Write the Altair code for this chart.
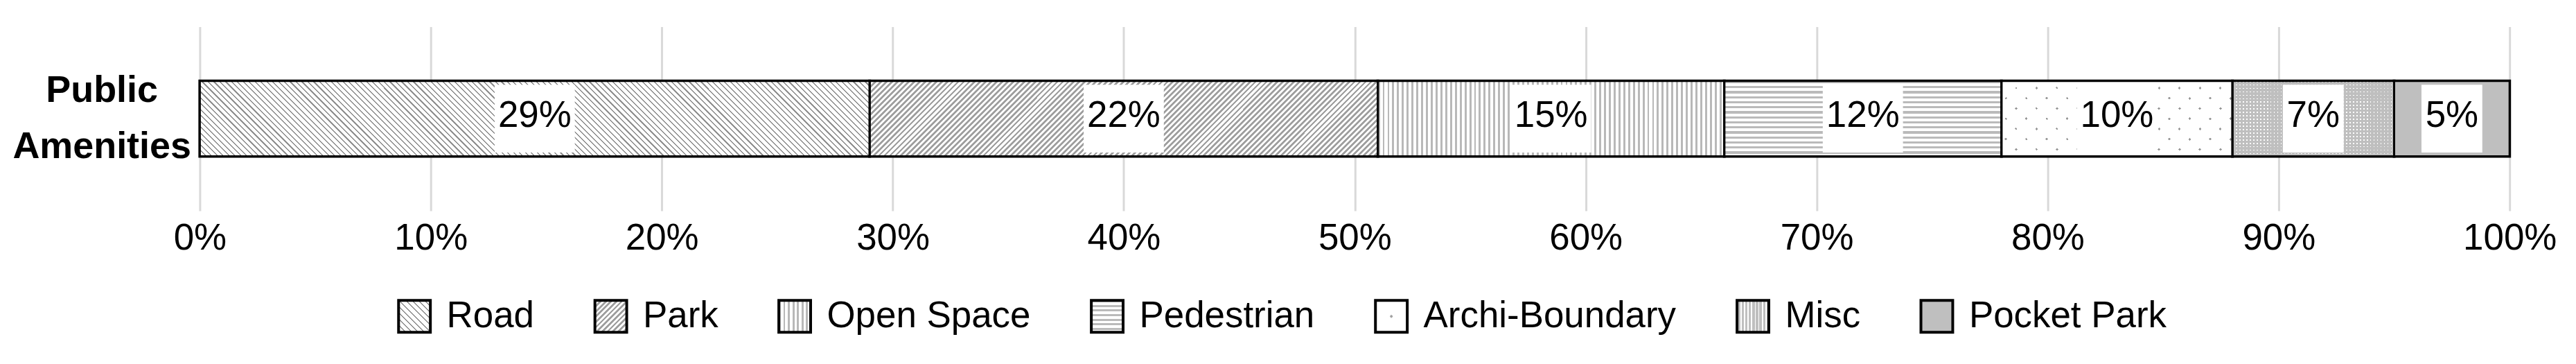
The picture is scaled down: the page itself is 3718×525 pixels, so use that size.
import json
import altair as alt
import pandas as pd

# ---------------- data ----------------
categories = ["Road", "Park", "Open Space", "Pedestrian", "Archi-Boundary", "Misc", "Pocket Park"]
shares = [29, 22, 15, 12, 10, 7, 5]
group_name = "Public Amenities"
tick_values = [0, 10, 20, 30, 40, 50, 60, 70, 80, 90, 100]

df = pd.DataFrame({
    "category": categories,
    "value": shares,
    "order": list(range(len(categories))),
    "group": [group_name] * len(categories),
})

# ---------------- style ----------------
FONT = "Liberation Sans"
PLOT_W, PLOT_H = 3341, 266
BAR_H = 109
LEG = 46
CLEAR = "rgba(255,255,255,0)"


def stops_for(n, frac, line, bg):
    out = []
    for i in range(n):
        a, b, c = i / n, (i + frac) / n, (i + 1) / n
        out += [{"offset": round(a, 5), "color": line}, {"offset": round(b, 5), "color": line},
                {"offset": round(b, 5), "color": bg}, {"offset": round(c, 5), "color": bg}]
    return out


def vstripes(w, h, sp, frac, line, bg):
    n = max(1, round(w / sp))
    return {"gradient": "linear", "x1": 0, "y1": 0, "x2": 1, "y2": 0, "stops": stops_for(n, frac, line, bg)}


def hstripes(w, h, sp, frac, line, bg):
    n = max(1, round(h / sp))
    return {"gradient": "linear", "x1": 0, "y1": 0, "x2": 0, "y2": 1, "stops": stops_for(n, frac, line, bg)}


def slash(w, h, sp, frac, line, bg):
    s = (w + h) * w / (w * w + h * h)
    n = max(1, round((w + h) / sp))
    return {"gradient": "linear", "x1": 0, "y1": 0, "x2": round(s, 6), "y2": round(s * h / w, 6),
            "stops": stops_for(n, frac, line, bg)}


def backslash(w, h, sp, frac, line, bg):
    s = (w + h) * w / (w * w + h * h)
    n = max(1, round((w + h) / sp))
    return {"gradient": "linear", "x1": 0, "y1": 1, "x2": round(s, 6), "y2": round(1 - s * h / w, 6),
            "stops": stops_for(n, frac, line, bg)}


def ex(g):
    return alt.ExprRef(expr=json.dumps(g, separators=(",", ":")))


widths = [v / 100 * PLOT_W for v in shares]
W = dict(zip(categories, widths))
H = BAR_H

bar_range = [
    ex(backslash(W["Road"], H, 8.5, 0.26, "#909090", "white")),
    ex(slash(W["Park"], H, 8, 0.48, "#a0a0a0", "white")),
    ex(vstripes(W["Open Space"], H, 7, 0.42, "#b8b8b8", "white")),
    ex(hstripes(W["Pedestrian"], H, 7.5, 0.45, "#bababa", "white")),
    ex(slash(W["Archi-Boundary"], H, 30, 0.13, "#9a9a9a", "white")),
    ex(vstripes(W["Misc"], H, 5, 0.35, "white", "#bfbfbf")),
    "#bfbfbf",
]
overlay_range = [
    "transparent", "transparent", "transparent", "transparent",
    ex(backslash(W["Archi-Boundary"], H, 30, 0.13, CLEAR, "white")),
    ex(hstripes(W["Misc"], H, 5, 0.35, CLEAR, "#bfbfbf")),
    "transparent",
]
legend_range = [
    ex(backslash(LEG, LEG, 9, 0.22, "#909090", "white")),
    ex(slash(LEG, LEG, 8, 0.48, "#a0a0a0", "white")),
    ex(vstripes(LEG, LEG, 7, 0.42, "#b8b8b8", "white")),
    ex(hstripes(LEG, LEG, 7, 0.45, "#bababa", "white")),
    ex({"gradient": "radial", "x1": 0.5, "y1": 0.5, "r1": 0, "x2": 0.5, "y2": 0.5, "r2": 0.5,
        "stops": [{"offset": 0, "color": "#a0a0a0"}, {"offset": 0.07, "color": "#a0a0a0"},
                  {"offset": 0.07, "color": "white"}, {"offset": 1, "color": "white"}]}),
    ex(vstripes(LEG, LEG, 5, 0.35, "white", "#bfbfbf")),
    "#bfbfbf",
]

base = alt.Chart(df).transform_stack(
    stack="value", groupby=["group"], as_=["x0", "x1"],
    sort=[alt.SortField("order", order="ascending")],
).transform_calculate(
    mid="(datum.x0 + datum.x1) / 2",
    label="datum.value + '%'",
)

x_enc = alt.X(
    "x0:Q", title=None,
    scale=alt.Scale(domain=[0, 100], nice=False, zero=False),
    axis=alt.Axis(values=tick_values, labelExpr="datum.value + '%'", grid=True,
                  gridColor="#d9d9d9", gridWidth=3, domain=False, ticks=False, tickSize=0,
                  labelFontSize=53, labelFont=FONT, labelColor="black", labelPadding=14,
                  labelFlush=False, labelOverlap=False),
)
y_enc = alt.Y(
    "group:N", title=None,
    scale=alt.Scale(paddingInner=0, paddingOuter=0.72),
    axis=alt.Axis(labelExpr="split(datum.label, ' ')", domain=False, ticks=False, tickSize=0,
                  labelFontSize=54, labelFont=FONT, labelFontWeight="bold", labelColor="black",
                  labelAlign="center", labelBaseline="middle", labelLineHeight=81,
                  labelPadding=142, labelLimit=0, labelOffset=-40),
)

legend_layer = base.mark_bar(stroke="black", strokeWidth=4).encode(
    x=x_enc, x2="x1:Q", y=y_enc,
    fill=alt.Fill("category:N", scale=alt.Scale(domain=categories, range=legend_range),
                  legend=alt.Legend(orient="none", legendX=284, legendY=392, direction="horizontal",
                                    title=None, symbolType="square", symbolSize=LEG * LEG,
                                    symbolStrokeColor="black", symbolStrokeWidth=4,
                                    labelFontSize=53, labelFont=FONT, labelColor="black",
                                    labelOffset=20, columnPadding=79, labelLimit=1000, padding=0)),
)

pattern_layer = base.mark_bar().encode(
    x=x_enc, x2="x1:Q", y=y_enc,
    fill=alt.Fill("category:N", scale=alt.Scale(domain=categories, range=bar_range), legend=None),
)

overlay_layer = base.mark_bar().encode(
    x=x_enc, x2="x1:Q", y=y_enc,
    fill=alt.Fill("category:N", scale=alt.Scale(domain=categories, range=overlay_range), legend=None),
)

outline_layer = base.mark_bar(fill="transparent", stroke="black", strokeWidth=3).encode(
    x=x_enc, x2="x1:Q", y=y_enc,
)

wide_box = "M-1.184,-1L1.184,-1L1.184,1L-1.184,1Z"
narrow_box = "M-0.898,-1L0.898,-1L0.898,1L-0.898,1Z"
box_layer = base.mark_point(filled=True, fill="white", opacity=1, strokeWidth=0, size=98 * 98).encode(
    x=alt.X("mid:Q"), y=y_enc,
    shape=alt.condition("length(datum.label) > 2", alt.value(wide_box), alt.value(narrow_box)),
)

text_layer = base.mark_text(font=FONT, fontSize=53, color="black", baseline="middle", dy=-4).encode(
    x=alt.X("mid:Q"), y=y_enc, text="label:N",
)

chart = alt.layer(
    legend_layer, pattern_layer, overlay_layer, outline_layer, box_layer, text_layer
).resolve_scale(fill="independent").properties(
    width=PLOT_W, height=PLOT_H,
    autosize=alt.AutoSizeParams(type="none"),
    padding={"left": 281, "top": 30, "right": 88, "bottom": 200},
).configure(font=FONT).configure_view(strokeWidth=0)

chart.save("out.html", embed_options={"renderer": "svg", "actions": False})
